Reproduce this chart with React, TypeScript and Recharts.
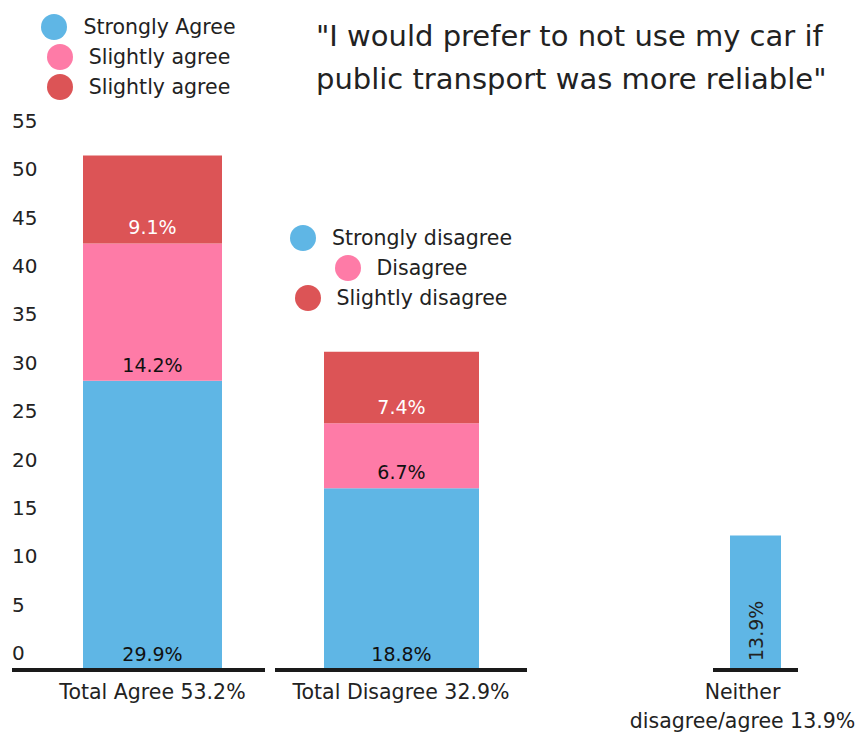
import { Bar, BarChart, LabelList, Legend, XAxis, YAxis } from 'recharts';

const FONT = "'DejaVu Sans', 'Noto Sans', sans-serif";
const INK = '#222222';
const LINE = '#1a1a1a';
const BLUE = '#5fb6e5';
const PINK = '#fe7ba7';
const RED = '#dc5456';

const Y_DOMAIN = [0, 55];
const Y_TICKS = [0, 5, 10, 15, 20, 25, 30, 35, 40, 45, 50, 55];

const AGREE_CATEGORIES = ['Total Agree 53.2%'];
const AGREE_NAMES = ['Strongly Agree', 'Slightly agree', 'Slightly agree'];
const AGREE_STRONG = [29.9];
const AGREE_SLIGHT = [14.2];
const AGREE_SLIGHT_TOP = [9.1];

const DISAGREE_CATEGORIES = ['Total Disagree 32.9%'];
const DISAGREE_NAMES = ['Strongly disagree', 'Disagree', 'Slightly disagree'];
const DISAGREE_STRONG = [18.8];
const DISAGREE_MID = [6.7];
const DISAGREE_SLIGHT = [7.4];

const NEITHER_CATEGORIES = ['Neither\ndisagree/agree 13.9%'];
const NEITHER_VALUES = [13.9];

const agreeData = AGREE_CATEGORIES.map((name, i) => ({
  name,
  a: AGREE_STRONG[i],
  b: AGREE_SLIGHT[i],
  c: AGREE_SLIGHT_TOP[i],
}));
const disagreeData = DISAGREE_CATEGORIES.map((name, i) => ({
  name,
  a: DISAGREE_STRONG[i],
  b: DISAGREE_MID[i],
  c: DISAGREE_SLIGHT[i],
}));
const neitherData = NEITHER_CATEGORIES.map((name, i) => ({ name, a: NEITHER_VALUES[i] }));

const pct = (v: any) => `${v}%`;

function StackLegend({ payload }: any) {
  return (
    <div style={{ display: 'flex', flexDirection: 'column', alignItems: 'center', fontFamily: FONT }}>
      {(payload ?? []).map((p: any, i: number) => (
        <div key={i} style={{ display: 'flex', alignItems: 'center', height: 30, gap: 16 }}>
          <span style={{ width: 26, height: 26, borderRadius: '50%', background: p.color, display: 'inline-block' }} />
          <span style={{ fontSize: 20.5, color: INK }}>{p.value}</span>
        </div>
      ))}
    </div>
  );
}

function YTick({ y, payload }: any) {
  return (
    <text x={12} y={y - 17} dominantBaseline="central" fontSize={20} fill={INK} fontFamily={FONT}>
      {payload.value}
    </text>
  );
}

function XTick({ x, y, payload, shift = 0 }: any) {
  const lines = String(payload.value).split('\n');
  return (
    <text x={x + shift} y={y} textAnchor="middle" fontSize={20.5} fill={INK} fontFamily={FONT}>
      {lines.map((l, i) => (
        <tspan key={i} x={x + shift} dy={i === 0 ? 21 : 29}>
          {l}
        </tspan>
      ))}
    </text>
  );
}

function RotatedLabel({ x, y, width, height, value }: any) {
  const cx = x + width / 2;
  const by = y + height - 9;
  return (
    <text
      x={cx}
      y={by}
      transform={`rotate(-90 ${cx} ${by})`}
      dominantBaseline="central"
      fontSize={19}
      fill={INK}
      fontFamily={FONT}
    >
      {pct(value)}
    </text>
  );
}

const labelProps = { position: 'insideBottom' as const, offset: 9, fontSize: 19, fontFamily: FONT, formatter: pct };

export default function App() {
  return (
    <div style={{ position: 'absolute', left: 0, top: 0, width: 856, height: 736, background: '#fff', fontFamily: FONT }}>
      <div
        style={{
          position: 'absolute',
          left: 316,
          top: 15,
          fontSize: 29,
          lineHeight: '43px',
          color: INK,
          whiteSpace: 'nowrap',
        }}
      >
        "I would prefer to not use my car if
        <br />
        public transport was more reliable"
      </div>

      <div style={{ position: 'absolute', left: 0, top: 0 }}>
        <BarChart width={265} height={736} data={agreeData} margin={{ top: 138, right: 0, bottom: 16, left: 0 }}>
          <YAxis
            width={12}
            domain={Y_DOMAIN}
            ticks={Y_TICKS}
            interval={0}
            axisLine={false}
            tickLine={false}
            tick={<YTick />}
          />
          <XAxis
            dataKey="name"
            height={50}
            padding={{ left: 28, right: 0 }}
            axisLine={{ stroke: LINE, strokeWidth: 4 }}
            tickLine={false}
            interval={0}
            tick={<XTick />}
          />
          <Legend
            layout="vertical"
            align="center"
            verticalAlign="middle"
            itemSorter="dataKey"
            content={(p: any) => <StackLegend {...p} />}
            wrapperStyle={{ top: 12, left: 6, width: 265 }}
          />
          <Bar dataKey="a" name={AGREE_NAMES[0]} stackId="s" fill={BLUE} barSize={139} isAnimationActive={false}>
            <LabelList dataKey="a" fill="#111" {...labelProps} />
          </Bar>
          <Bar dataKey="b" name={AGREE_NAMES[1]} stackId="s" fill={PINK} barSize={139} isAnimationActive={false}>
            <LabelList dataKey="b" fill="#111" {...labelProps} />
          </Bar>
          <Bar dataKey="c" name={AGREE_NAMES[2]} stackId="s" fill={RED} barSize={139} isAnimationActive={false}>
            <LabelList dataKey="c" fill="#fff" {...labelProps} />
          </Bar>
        </BarChart>
      </div>

      <div style={{ position: 'absolute', left: 275, top: 0 }}>
        <BarChart width={252} height={736} data={disagreeData} margin={{ top: 138, right: 0, bottom: 16, left: 0 }}>
          <YAxis hide domain={Y_DOMAIN} ticks={Y_TICKS} />
          <XAxis
            dataKey="name"
            height={50}
            axisLine={{ stroke: LINE, strokeWidth: 4 }}
            tickLine={false}
            interval={0}
            tick={<XTick />}
          />
          <Legend
            layout="vertical"
            align="center"
            verticalAlign="middle"
            itemSorter="dataKey"
            content={(p: any) => <StackLegend {...p} />}
            wrapperStyle={{ top: 223, left: 0, width: 252 }}
          />
          <Bar dataKey="a" name={DISAGREE_NAMES[0]} stackId="s" fill={BLUE} barSize={155} isAnimationActive={false}>
            <LabelList dataKey="a" fill="#111" {...labelProps} />
          </Bar>
          <Bar dataKey="b" name={DISAGREE_NAMES[1]} stackId="s" fill={PINK} barSize={155} isAnimationActive={false}>
            <LabelList dataKey="b" fill="#111" {...labelProps} />
          </Bar>
          <Bar dataKey="c" name={DISAGREE_NAMES[2]} stackId="s" fill={RED} barSize={155} isAnimationActive={false}>
            <LabelList dataKey="c" fill="#fff" {...labelProps} />
          </Bar>
        </BarChart>
      </div>

      <div style={{ position: 'absolute', left: 620, top: 0 }}>
        <BarChart width={236} height={736} data={neitherData} margin={{ top: 138, right: 58, bottom: 16, left: 93 }}>
          <YAxis hide domain={Y_DOMAIN} ticks={Y_TICKS} />
          <XAxis
            dataKey="name"
            height={50}
            axisLine={{ stroke: LINE, strokeWidth: 4 }}
            tickLine={false}
            interval={0}
            tick={<XTick shift={-13} />}
          />
          <Bar dataKey="a" name="Neither" fill={BLUE} barSize={51} isAnimationActive={false}>
            <LabelList dataKey="a" content={<RotatedLabel />} />
          </Bar>
        </BarChart>
      </div>
    </div>
  );
}
